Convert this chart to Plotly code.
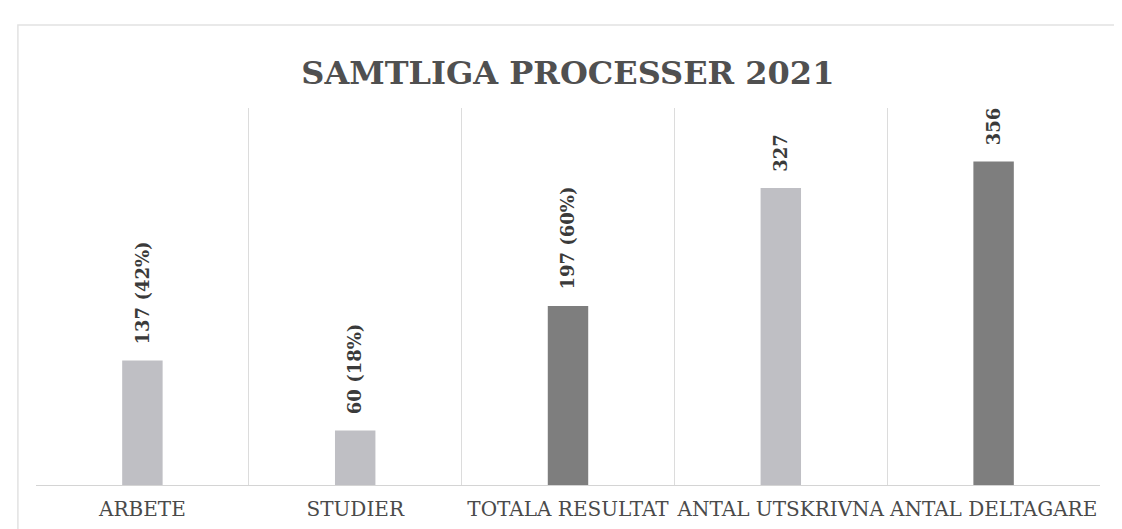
import plotly.graph_objects as go

categories = ["ARBETE", "STUDIER", "TOTALA RESULTAT", "ANTAL UTSKRIVNA", "ANTAL DELTAGARE"]
values = [137, 60, 197, 327, 356]
labels = ["137 (42%)", "60 (18%)", "197 (60%)", "327", "356"]
bar_colors = ["#bfbfc4", "#bfbfc4", "#7e7e7e", "#bfbfc4", "#7e7e7e"]

fig = go.Figure()
fig.add_trace(go.Bar(
    x=categories, y=values,
    marker=dict(color=bar_colors, line=dict(width=0)),
    width=0.19,
    hoverinfo="skip",
))

for c, v, t in zip(categories, values, labels):
    fig.add_annotation(
        x=c, y=v, text=t, textangle=-90, showarrow=False,
        xanchor="center", yanchor="bottom", yshift=14,
        font=dict(family="DejaVu Serif", size=18, color="#3a3a3a", weight="bold"),
    )

# outer chart border
fig.add_shape(type="rect", xref="paper", yref="paper",
              x0=-0.017, x1=1.02, y0=-0.125, y1=1.22,
              line=dict(color="#e2e2e2", width=1.5), fillcolor="rgba(0,0,0,0)", layer="below")

fig.update_layout(
    width=1122, height=529,
    paper_bgcolor="white", plot_bgcolor="white",
    margin=dict(l=28, r=30, t=100, b=52, autoexpand=False),
    showlegend=False,
    title=dict(
        text="SAMTLIGA PROCESSER 2021",
        xref="container", x=0.499, xanchor="center", y=0.877, yanchor="middle",
        font=dict(family="DejaVu Serif", size=32, color="#505050", weight="bold"),
    ),
    xaxis=dict(
        type="category", tickson="boundaries",
        showgrid=True, gridcolor="#dcdcdc", gridwidth=1,
        showline=True, linecolor="#d4d4d4", linewidth=1, mirror=False,
        ticks="", ticklabelstandoff=6, tickangle=0, automargin=False,
        tickfont=dict(family="DejaVu Serif", size=20, color="#4a4a4a"),
        fixedrange=True,
    ),
    yaxis=dict(
        range=[0, 415], showgrid=False, showticklabels=False,
        zeroline=False, showline=False, fixedrange=True, automargin=False,
    ),
)

fig.write_html("out.html")
